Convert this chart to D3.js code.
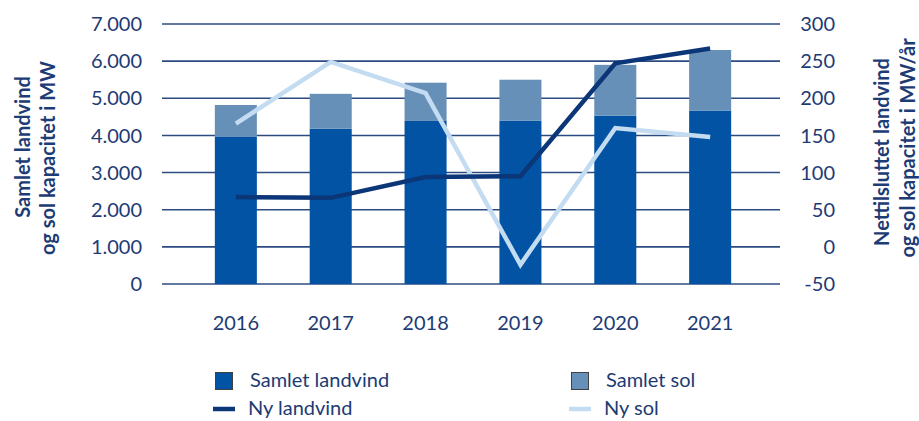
<!DOCTYPE html>
<html>
<head>
<meta charset="utf-8">
<script src="https://cdn.jsdelivr.net/npm/d3@7"></script>
<style>
  body { margin: 0; background: #fff; }
  svg { display: block; font-family: Lato, 'Open Sans', sans-serif; }
</style>
</head>
<body>
<svg id="chart" width="919" height="421"></svg>
<script>
const years = ['2016', '2017', '2018', '2019', '2020', '2021']
// MW, stacked bars (left axis)
const samletLandvind = [3970, 4180, 4390, 4400, 4530, 4670]
const samletSol = [850, 940, 1030, 1100, 1370, 1630]
// MW/år, lines (right axis)
const nyLandvind = [67, 66, 94, 95, 247, 267]
const nySol = [166, 249, 207, -24, 160, 148]

const leftTicks = [0, 1000, 2000, 3000, 4000, 5000, 6000, 7000]
const rightTicks = [-50, 0, 50, 100, 150, 200, 250, 300]

const colors = {
  landvind: '#0353a4',
  sol: '#6690b8',
  nyLandvind: '#0b3677',
  nySol: '#c4dcf1',
  text: '#1d3b74',
  grid: '#2c4b80',
}

const width = 919
const height = 421
const margin = { top: 24, bottom: 137, left: 162, right: 139 }
const plotBottom = height - margin.bottom
const plotRight = width - margin.right

const svg = d3.select('#chart')

const x = d3
  .scaleBand()
  .domain(years)
  .range([margin.left, 784])
  .padding(0.557)

const yLeft = d3.scaleLinear().domain([0, 7000]).range([plotBottom, margin.top])
const yRight = d3.scaleLinear().domain([-50, 300]).range([plotBottom, margin.top])

// gridlines
svg
  .append('g')
  .selectAll('line')
  .data(leftTicks)
  .join('line')
  .attr('x1', margin.left)
  .attr('x2', plotRight)
  .attr('y1', (d) => yLeft(d))
  .attr('y2', (d) => yLeft(d))
  .attr('stroke', colors.grid)
  .attr('stroke-width', 1.6)

// left tick labels
svg
  .append('g')
  .selectAll('text')
  .data(leftTicks)
  .join('text')
  .attr('x', 142)
  .attr('y', (d) => yLeft(d))
  .attr('dy', '0.36em')
  .attr('text-anchor', 'end')
  .attr('font-size', 20)
  .attr('fill', colors.text)
  .text((d) => d3.format(',')(d).replace(/,/g, '.'))

// right tick labels
svg
  .append('g')
  .selectAll('text')
  .data(rightTicks)
  .join('text')
  .attr('x', 835)
  .attr('y', (d) => yRight(d))
  .attr('dy', '0.36em')
  .attr('text-anchor', 'end')
  .attr('font-size', 20)
  .attr('fill', colors.text)
  .text((d) => d)

// year labels
svg
  .append('g')
  .selectAll('text')
  .data(years)
  .join('text')
  .attr('x', (d) => x(d) + x.bandwidth() / 2)
  .attr('y', 330)
  .attr('text-anchor', 'middle')
  .attr('font-size', 20)
  .attr('fill', colors.text)
  .text((d) => d)

// stacked bars
const table = years.map((year, i) => ({
  year,
  landvind: samletLandvind[i],
  sol: samletSol[i],
}))
const stack = d3.stack().keys(['landvind', 'sol'])(table)

svg
  .append('g')
  .selectAll('g')
  .data(stack)
  .join('g')
  .attr('fill', (s) => colors[s.key])
  .selectAll('rect')
  .data((s) => s)
  .join('rect')
  .attr('x', (d) => x(d.data.year))
  .attr('width', x.bandwidth())
  .attr('y', (d) => yLeft(d[1]))
  .attr('height', (d) => yLeft(d[0]) - yLeft(d[1]))

// lines
const line = d3
  .line()
  .x((d, i) => x(years[i]) + x.bandwidth() / 2)
  .y((d) => yRight(d))

svg
  .append('path')
  .datum(nySol)
  .attr('d', line)
  .attr('fill', 'none')
  .attr('stroke', colors.nySol)
  .attr('stroke-width', 4.5)

svg
  .append('path')
  .datum(nyLandvind)
  .attr('d', line)
  .attr('fill', 'none')
  .attr('stroke', colors.nyLandvind)
  .attr('stroke-width', 4.5)

// axis titles
const leftTitle = ['Samlet landvind', 'og sol kapacitet i MW']
const rightTitle = ['Nettilsluttet landvind', 'og sol kapacitet i MW/år']

svg
  .append('g')
  .selectAll('text')
  .data(leftTitle)
  .join('text')
  .attr('transform', (d, i) => `translate(${[30, 55][i]},${[147, 158][i]}) rotate(-90)`)
  .attr('text-anchor', 'middle')
  .attr('font-size', 20)
  .attr('font-weight', 'bold')
  .attr('fill', colors.text)
  .text((d) => d)

svg
  .append('g')
  .selectAll('text')
  .data(rightTitle)
  .join('text')
  .attr('transform', (d, i) => `translate(${[889, 915][i]},${[152, 148][i]}) rotate(-90)`)
  .attr('text-anchor', 'middle')
  .attr('font-size', 20)
  .attr('font-weight', 'bold')
  .attr('fill', colors.text)
  .text((d) => d)

// legend
const legendItems = [
  { label: 'Samlet landvind', color: colors.landvind, type: 'rect', x: 215, y: 381 },
  { label: 'Samlet sol', color: colors.sol, type: 'rect', x: 571, y: 381 },
  { label: 'Ny landvind', color: colors.nyLandvind, type: 'line', x: 213, y: 409 },
  { label: 'Ny sol', color: colors.nySol, type: 'line', x: 569, y: 409 },
]

const legend = svg
  .append('g')
  .selectAll('g')
  .data(legendItems)
  .join('g')
  .attr('transform', (d) => `translate(${d.x},${d.y})`)

legend
  .filter((d) => d.type === 'rect')
  .append('rect')
  .attr('x', 0.5)
  .attr('y', -8.5)
  .attr('width', 17)
  .attr('height', 17)
  .attr('fill', (d) => d.color)
  .attr('stroke', '#404040')
  .attr('stroke-width', 1)

legend
  .filter((d) => d.type === 'line')
  .append('line')
  .attr('x1', 0)
  .attr('x2', 22)
  .attr('stroke', (d) => d.color)
  .attr('stroke-width', 4.5)

legend
  .append('text')
  .attr('x', 35)
  .attr('y', 0)
  .attr('dy', '0.32em')
  .attr('font-size', 20)
  .attr('fill', colors.text)
  .text((d) => d.label)
</script>
</body>
</html>
